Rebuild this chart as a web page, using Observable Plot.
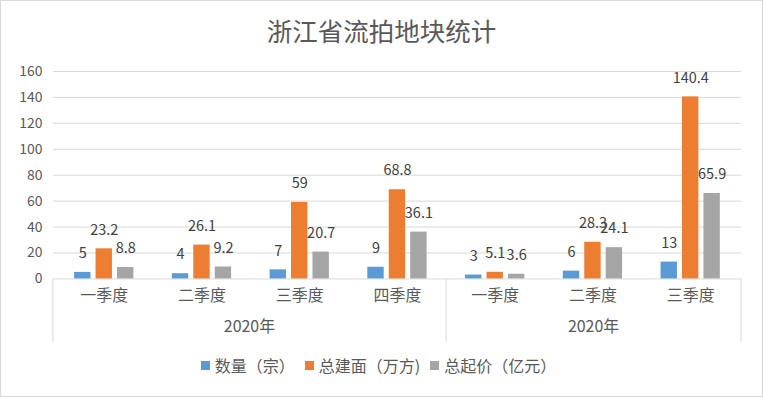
<!DOCTYPE html>
<html>
<head>
<meta charset="utf-8">
<script src="https://cdn.jsdelivr.net/npm/d3@7"></script>
<script src="https://cdn.jsdelivr.net/npm/@observablehq/plot@0.6"></script>
<style>
  html, body { margin: 0; padding: 0; background: #fff; }
  #wrap {
    position: relative; width: 763px; height: 397px; box-sizing: border-box;
    border: 1px solid #d9d9d9; background: #fff; overflow: hidden;
    font-family: "Noto Sans CJK SC", "Noto Sans", sans-serif; color: #595959;
  }
  #title {
    height: 59px; line-height: 58px; text-align: center;
    font-size: 25.5px; color: #595959; letter-spacing: 0;
  }
  #chart svg { display: block; }
  #chart svg [aria-label^="x-axis"] text { font-size: 16px; }
  #legend {
    display: flex; justify-content: center; align-items: center;
    height: 36px; font-size: 16px; color: #595959; gap: 10px; margin-left: -6px;
  }
  #legend .item { display: flex; align-items: center; gap: 5px; }
  #legend .sw { width: 9px; height: 9px; display: inline-block; }
</style>
</head>
<body>
<div id="wrap">
  <div id="title"></div>
  <div id="chart"></div>
  <div id="legend"></div>
</div>
<script>
// ---- data ----
const titleText = "浙江省流拍地块统计";
const quarters = ["一季度", "二季度", "三季度", "四季度", "一季度", "二季度", "三季度"];
const yearLabels = ["2020年", "2020年"];
const yearGroupSizes = [4, 3];
const seriesNames = ["数量（宗）", "总建面（万方)", "总起价（亿元）"];
const seriesColors = ["#5B9BD5", "#ED7D31", "#A5A5A5"];
const countValues = [5, 4, 7, 9, 3, 6, 13];
const areaValues = [23.2, 26.1, 59, 68.8, 5.1, 28.3, 140.4];
const priceValues = [8.8, 9.2, 20.7, 36.1, 3.6, 24.1, 65.9];
const yTicks = [0, 20, 40, 60, 80, 100, 120, 140, 160];

// ---- build ----
const seriesValues = [countValues, areaValues, priceValues];
const keys = quarters.map((q, i) => i);
const rowsBySeries = seriesValues.map((vals, j) =>
  vals.map((v, i) => ({key: i, series: seriesNames[j], value: v}))
);

document.getElementById("title").textContent = titleText;

const W = 763, H = 288;
const mL = 52, mR = 21, mT = 11, mB = 69;
const bandW = (W - mL - mR) / quarters.length;
const barW = 17, barStep = 21.5;
const inset = (bandW - barW) / 2;

const marks = [
  Plot.ruleY(yTicks, {stroke: "#d9d9d9", strokeWidth: 1})
];
rowsBySeries.forEach((rows, j) => {
  const off = (j - 1) * barStep;
  marks.push(Plot.barY(rows, {
    x: "key", y: "value", fill: seriesColors[j],
    dx: off, insetLeft: inset, insetRight: inset
  }));
  marks.push(Plot.text(rows, {
    x: "key", y: "value", text: d => String(d.value),
    dx: off, dy: -19, fill: "#404040", fontSize: 14.5
  }));
});

const chart = Plot.plot({
  width: W, height: H,
  marginLeft: mL, marginRight: mR, marginTop: mT, marginBottom: mB,
  style: {fontFamily: "'Noto Sans CJK SC', 'Noto Sans', sans-serif", fontSize: "14px", color: "#595959", background: "transparent"},
  x: {type: "band", domain: keys, padding: 0, tickFormat: i => quarters[i], tickSize: 0, tickPadding: 11, label: null},
  y: {domain: [0, 160], ticks: yTicks, tickSize: 0, tickPadding: 11, label: null},
  marks
});
document.getElementById("chart").appendChild(chart);

// ---- group separators and year labels ----
const svg = d3.select(chart.tagName.toLowerCase() === "svg" ? chart : chart.querySelector("svg"));
const xsd = chart.scale("x");
const ysd = chart.scale("y");
const xb = d3.scaleBand().domain(xsd.domain).range(xsd.range).padding(0);
const y0 = ysd.apply ? ysd.apply(0) : d3.scaleLinear().domain(ysd.domain).range(ysd.range)(0);
const edge = i => i < keys.length ? xb(keys[i]) : xb(keys[keys.length - 1]) + xb.bandwidth();
const g = svg.append("g");
let start = 0;
const bounds = [0];
yearGroupSizes.forEach(s => { start += s; bounds.push(start); });
bounds.forEach(b => {
  g.append("line")
    .attr("x1", edge(b)).attr("x2", edge(b))
    .attr("y1", y0).attr("y2", y0 + 64)
    .attr("stroke", "#d9d9d9");
});
yearLabels.forEach((lab, k) => {
  const cx = (edge(bounds[k]) + edge(bounds[k + 1])) / 2;
  g.append("text")
    .attr("x", cx).attr("y", y0 + 49)
    .attr("text-anchor", "middle").attr("dominant-baseline", "middle")
    .attr("fill", "#595959").attr("font-size", 16)
    .text(lab);
});

// ---- legend ----
const legend = d3.select("#legend");
seriesNames.forEach((n, j) => {
  const it = legend.append("div").attr("class", "item");
  it.append("span").attr("class", "sw").style("background", seriesColors[j]);
  it.append("span").text(n);
});
</script>
</body>
</html>
